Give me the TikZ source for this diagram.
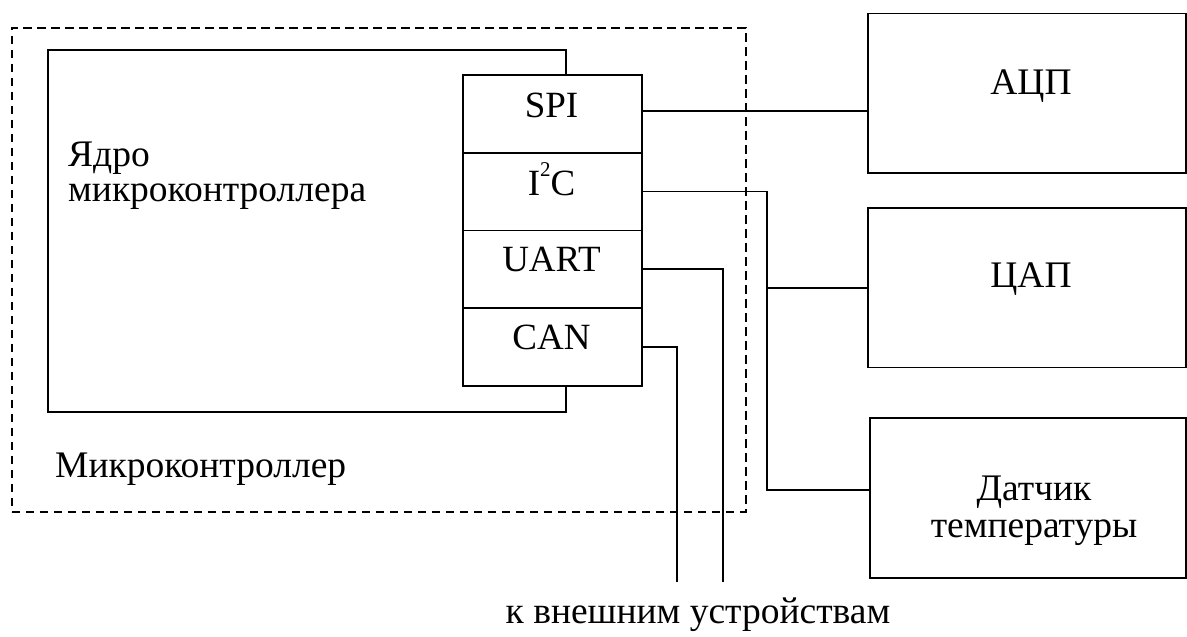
\documentclass[tikz,border=0pt]{standalone}
\usepackage{fontspec}
\setmainfont{Liberation Serif}
\usetikzlibrary{calc}
\newcommand{\supdigit}[1]{\raisebox{19pt}{\fontsize{21}{21}\selectfont #1}}
\tikzset{
  box/.style={draw, line width=1.9pt, inner sep=0pt, anchor=north west},
  port/.style={box, fill=white, minimum width=179pt, minimum height=77.75pt},
  unit/.style={box, minimum width=318pt, minimum height=159.5pt},
  wire/.style={line width=1.7pt},
  frame/.style={draw, line width=1.8pt, dash pattern=on 8.5pt off 5.5pt, inner sep=0pt, anchor=north west},
  lbl/.style={inner sep=0pt, font=\fontsize{37.5}{37}\selectfont},
  plbl/.style={inner sep=0pt, anchor=base, font=\fontsize{37}{38}\selectfont},
}
\begin{document}
\begin{tikzpicture}[x=1pt, y=-1pt]
  \useasboundingbox (0,0) rectangle (1187,637);

  % microcontroller outline and its core
  \node[frame, minimum width=734pt, minimum height=484pt] (mcu) at (11,27) {};
  \node[box, minimum width=518pt, minimum height=362pt] (core) at (47,49) {};

  % interface block
  \node[port] (spi)  at (462,74)     {};
  \node[port] (i2c)  at (462,151.75) {};
  \node[port] (uart) at (462,229.5)  {};
  \node[port] (can)  at (462,307.25) {};

  \node[plbl] (spilbl)  at (551.5,117) {SPI};
  \node[plbl] (i2clbl)  at (551.5,195) {I\supdigit{2}C};
  \node[plbl] (uartlbl) at (551.5,271) {UART};
  \node[plbl] (canlbl)  at (551.5,349) {CAN};

  % the base anchor of a two-line label is the baseline of its last line
  \node[lbl, anchor=base west, align=left, font=\fontsize{37.5}{35}\selectfont] (corelbl) at (68,201) {Ядро\\микроконтроллера};
  \node[lbl, anchor=base west] (mculbl) at (55,477) {Микроконтроллер};

  % peripheral devices
  \node[unit] (adc)  at (867,12.5) {};
  \node[unit] (dac)  at (867,207) {};
  \node[box, minimum width=316pt, minimum height=160pt] (temp) at (869,417) {};

  \node[lbl, anchor=base] (adclbl) at (1031,94) {АЦП};
  \node[lbl, anchor=base] (daclbl) at (1031,287) {ЦАП};
  \node[lbl, anchor=base, align=center] (templbl) at (1034,537) {Датчик\\температуры};

  % buses
  \coordinate (tbend) at (767,490);
  \coordinate (ext1) at (723,582);
  \coordinate (ext2) at (677,582);

  \draw[wire] ([yshift=3pt]spi.east) -- ([yshift=3pt]spi.east -| adc.west);
  \draw[wire] (i2c.east) -| (tbend) -- (tbend -| temp.west);
  \draw[wire] (tbend |- dac.west) -- (dac.west);
  \draw[wire] (uart.east) -| (ext1);
  \draw[wire] (can.east) -| (ext2);

  \node[lbl, anchor=base] (extlbl) at (698,623) {к внешним устройствам};
\end{tikzpicture}
\end{document}
